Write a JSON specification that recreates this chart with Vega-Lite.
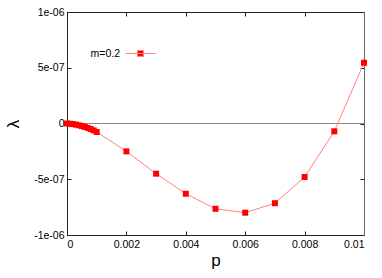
{
  "$schema": "https://vega.github.io/schema/vega-lite/v6.json",
  "width": 297,
  "height": 223,
  "autosize": {"type": "none"},
  "padding": {"left": 67, "top": 12, "right": 18, "bottom": 43},
  "background": "white",
  "config": {
    "view": {"stroke": "#444", "strokeWidth": 1},
    "font": "Liberation Sans",
    "axis": {"labelFont": "Liberation Sans", "labelFontSize": 10.5, "labelColor": "#000", "titleFont": "Liberation Sans", "titleFontWeight": "normal", "titleColor": "#000", "grid": false, "domainColor": "#222", "tickColor": "#222", "tickSize": -4, "labelPadding": 7}
  },
  "data": {"values": [
    {"p": 0, "lambda": 0, "m": "m=0.2"},
    {"p": 0.0001, "lambda": -2e-9, "m": "m=0.2"},
    {"p": 0.0002, "lambda": -5e-9, "m": "m=0.2"},
    {"p": 0.0003, "lambda": -1.0e-8, "m": "m=0.2"},
    {"p": 0.0004, "lambda": -1.6e-8, "m": "m=0.2"},
    {"p": 0.0005, "lambda": -2.3e-8, "m": "m=0.2"},
    {"p": 0.0006, "lambda": -3.1e-8, "m": "m=0.2"},
    {"p": 0.0007, "lambda": -4.0e-8, "m": "m=0.2"},
    {"p": 0.0008, "lambda": -5.0e-8, "m": "m=0.2"},
    {"p": 0.0009, "lambda": -6.2e-8, "m": "m=0.2"},
    {"p": 0.001, "lambda": -7.6e-8, "m": "m=0.2"},
    {"p": 0.002, "lambda": -2.5e-7, "m": "m=0.2"},
    {"p": 0.003, "lambda": -4.5e-7, "m": "m=0.2"},
    {"p": 0.004, "lambda": -6.3e-7, "m": "m=0.2"},
    {"p": 0.005, "lambda": -7.65e-7, "m": "m=0.2"},
    {"p": 0.006, "lambda": -8.0e-7, "m": "m=0.2"},
    {"p": 0.007, "lambda": -7.15e-7, "m": "m=0.2"},
    {"p": 0.008, "lambda": -4.8e-7, "m": "m=0.2"},
    {"p": 0.009, "lambda": -7.0e-8, "m": "m=0.2"},
    {"p": 0.01, "lambda": 5.45e-7, "m": "m=0.2"}
  ]},
  "resolve": {"axis": {"x": "independent", "y": "independent"}},
  "layer": [
    {
      "mark": {"type": "rule", "color": "#888", "strokeWidth": 1},
      "encoding": {"y": {"datum": 0, "type": "quantitative", "scale": {"domain": [-1e-6, 1e-6]}, "axis": {"orient": "right", "labels": false, "title": null, "values": [-1e-6, -5e-7, 0, 5e-7, 1e-6], "domainColor": "#666"}}}
    },
    {
      "mark": {"type": "line", "strokeWidth": 1},
      "encoding": {
        "x": {"field": "p", "type": "quantitative", "scale": {"domain": [0, 0.01], "nice": false}, "axis": {"orient": "top", "labels": false, "title": null, "values": [0, 0.002, 0.004, 0.006, 0.008, 0.01]}},
        "y": {"field": "lambda", "type": "quantitative", "scale": {"domain": [-1e-6, 1e-6], "nice": false}, "axis": null},
        "color": {"field": "m", "type": "nominal", "scale": {"range": ["#ff8080"]}, "legend": {
          "orient": "none", "legendX": 58, "legendY": 26, "title": null,
          "symbolType": "M-1,0H1M-0.2,-0.2H0.2V0.2H-0.2Z", "symbolSize": 900,
          "labelFont": "Liberation Sans", "labelFontSize": 10.5, "labelAlign": "right", "labelOffset": -36,
          "encode": {"symbols": {"update": {"fill": {"value": "#ff0000"}, "stroke": {"value": "#ff8080"}, "strokeWidth": {"value": 1}, "opacity": {"value": 1}}}}
        }}
      }
    },
    {
      "mark": {"type": "square", "size": 36, "color": "#ff0000", "opacity": 1, "filled": true},
      "encoding": {
        "x": {"field": "p", "type": "quantitative", "axis": {"orient": "bottom", "title": "p", "titleFontSize": 17, "titlePadding": 3, "labelPadding": 8, "values": [0, 0.002, 0.004, 0.006, 0.008, 0.01], "format": "~g"}},
        "y": {"field": "lambda", "type": "quantitative", "axis": {"orient": "left", "title": "λ", "titleAngle": 270, "titleFontSize": 17, "titlePadding": 11, "values": [-1e-6, -5e-7, 0, 5e-7, 1e-6], "labelExpr": "datum.value == 0 ? '0' : replace(replace(format(datum.value, '.0e'), 'e-', 'e-0'), '\u2212', '-')"}}
      }
    }
  ]
}
